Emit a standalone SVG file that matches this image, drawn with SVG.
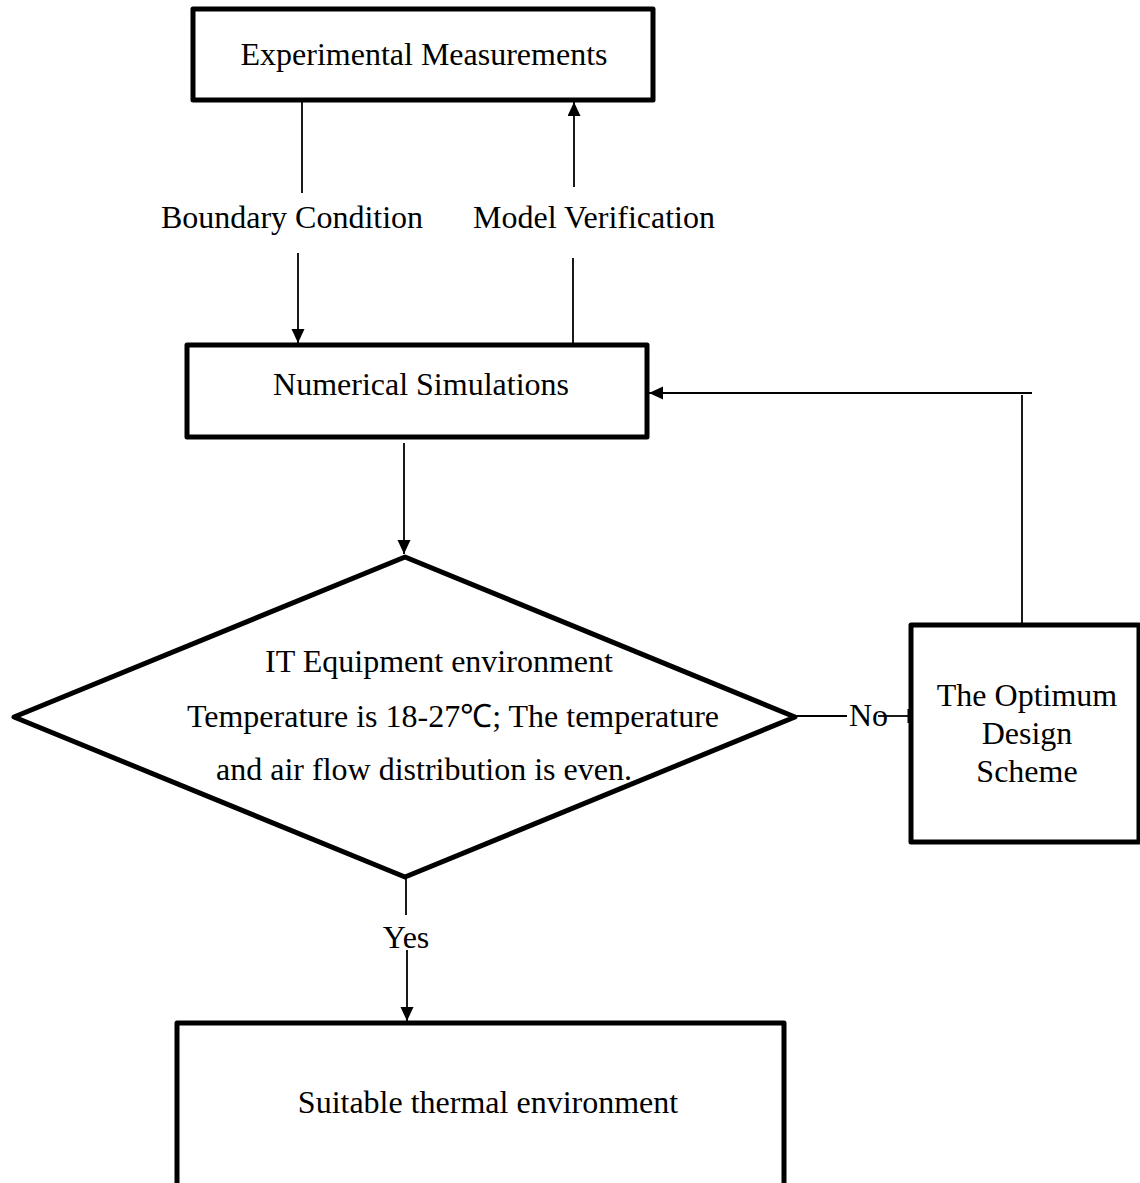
<svg xmlns="http://www.w3.org/2000/svg" width="1140" height="1183" viewBox="0 0 1140 1183">
  <style>
    .box { fill: #ffffff; stroke: #000000; stroke-width: 5; stroke-linejoin: round; }
    .lbl { font-family: "Liberation Serif", "Times New Roman", serif; font-size: 32px; fill: #000000; }
    .mid { text-anchor: middle; }
    .conn { stroke: #000000; stroke-width: 1.8; fill: none; }
  </style>
  <defs>
    <marker id="arrow" markerUnits="userSpaceOnUse" markerWidth="16" markerHeight="14" refX="14" refY="6.5" orient="auto">
      <path d="M0,0 L14,6.5 L0,13 z" fill="#000000"/>
    </marker>
  </defs>
  <rect width="1140" height="1183" fill="#ffffff"/>

  <g id="connectors">
    <line class="conn" x1="302" y1="101" x2="302" y2="193"/>
    <line class="conn" x1="298" y1="253" x2="298" y2="343" marker-end="url(#arrow)"/>
    <line class="conn" x1="573" y1="355" x2="573" y2="258"/>
    <line class="conn" x1="574" y1="187" x2="574" y2="102" marker-end="url(#arrow)"/>
    <line class="conn" x1="404" y1="443" x2="404" y2="554" marker-end="url(#arrow)"/>
    <line class="conn" x1="1022" y1="625" x2="1022" y2="395"/>
    <line class="conn" x1="1032" y1="393" x2="649" y2="393" marker-end="url(#arrow)"/>
    <line class="conn" x1="795" y1="716" x2="847" y2="716"/>
    <line class="conn" x1="878" y1="716" x2="910" y2="716"/>
    <line x1="909" y1="709" x2="909" y2="723" stroke="#000000" stroke-width="3"/>
    <line class="conn" x1="406" y1="877" x2="406" y2="915"/>
    <line class="conn" x1="407" y1="950" x2="407" y2="1021" marker-end="url(#arrow)"/>
    <text class="lbl mid" x="292" y="228">Boundary Condition</text>
    <text class="lbl mid" x="594" y="228">Model Verification</text>
    <text class="lbl" x="849" y="726">No</text>
    <text class="lbl mid" x="406" y="948">Yes</text>
  </g>

  <g id="experimental-measurements">
    <rect class="box" x="193" y="9" width="460" height="91"/>
    <text class="lbl mid" x="424" y="65">Experimental Measurements</text>
  </g>

  <g id="numerical-simulations">
    <rect class="box" x="187" y="345" width="460" height="92"/>
    <text class="lbl mid" x="421" y="395">Numerical Simulations</text>
  </g>

  <g id="decision">
    <polygon class="box" points="405,557 795,717 405,877 14,717"/>
    <text class="lbl mid" x="439" y="672">IT Equipment environment</text>
    <text class="lbl mid" x="453" y="727">Temperature is 18-27℃; The temperature</text>
    <text class="lbl mid" x="424" y="780">and air flow distribution is even.</text>
  </g>

  <g id="optimum-design-scheme">
    <rect class="box" x="911" y="625" width="228" height="217"/>
    <text class="lbl mid" x="1027" y="706">The Optimum</text>
    <text class="lbl mid" x="1027" y="744">Design</text>
    <text class="lbl mid" x="1027" y="782">Scheme</text>
  </g>

  <g id="suitable-thermal-environment">
    <rect class="box" x="177" y="1023" width="607" height="170"/>
    <text class="lbl mid" x="488" y="1113">Suitable thermal environment</text>
  </g>
</svg>
